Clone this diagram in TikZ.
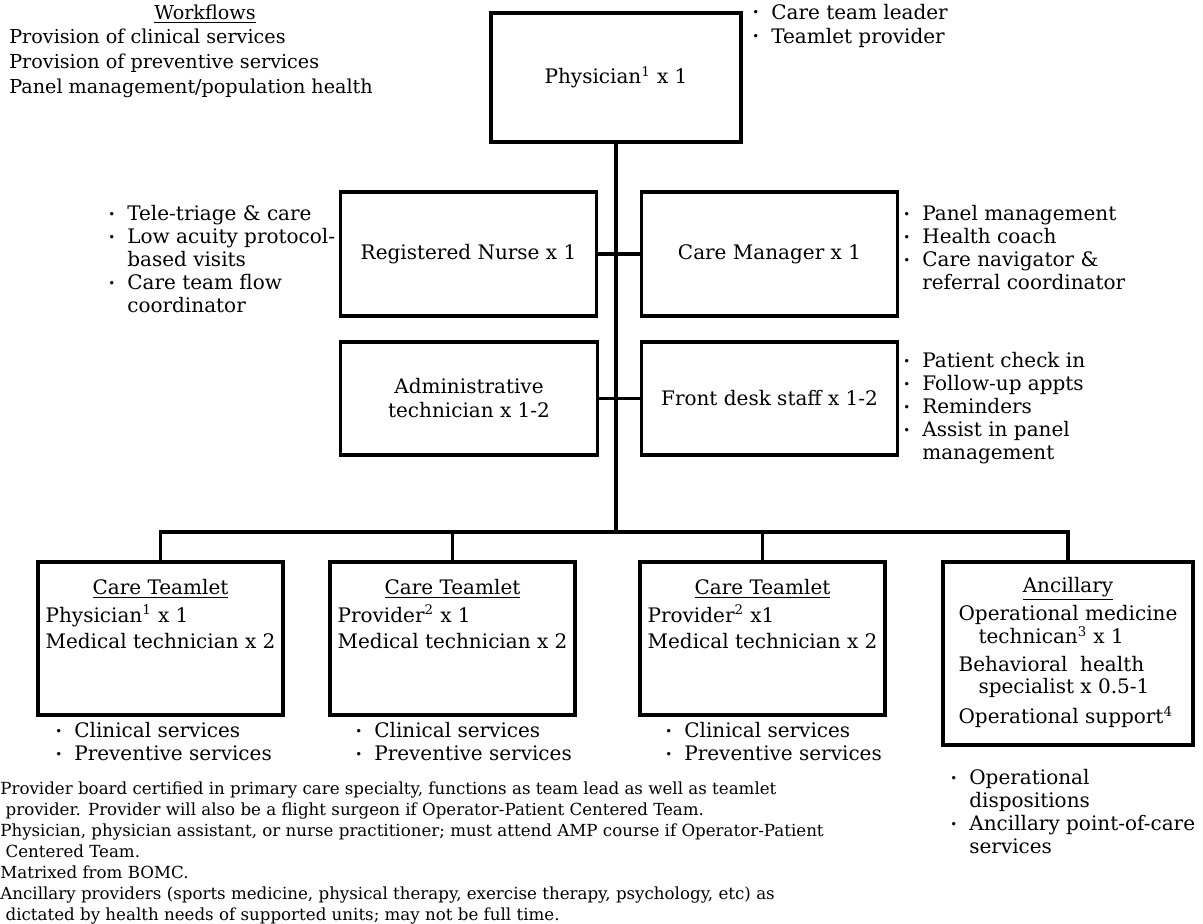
\documentclass[tikz,border=0pt]{standalone}
\usepackage{fontspec}
\setmainfont{DejaVu Serif}
\usetikzlibrary{positioning}
\newcommand{\bul}{\makebox[0.95em][l]{\raisebox{0.25ex}{\scriptsize\textbullet}}}
\newcommand{\cont}{\hspace*{0.95em}}

\begin{document}
\begin{tikzpicture}[x=0.6pt, y=-0.6pt,
    box/.style={draw, line width=1.9pt, minimum width=154pt, minimum height=74.4pt,
        align=center, inner sep=2pt, font=\fontsize{12}{14.4}\selectfont},
    team/.style={box, minimum width=147pt, minimum height=91.8pt, font=\fontsize{12}{13.8}\selectfont},
    notes/.style={align=left, inner sep=0pt, font=\fontsize{12}{13.8}\selectfont},
    link/.style={line width=1.9pt}]
	\useasboundingbox (0,0) rectangle (1203,924);

	% workflows and team lead
	\node[inner sep=0pt, font=\fontsize{11.5}{15}\selectfont] (wftitle) at (205,14) {\underline{Workflows}};
	\node[notes, font=\fontsize{11.5}{15}\selectfont, anchor=west] (wflist) at (9,63)
		{Provision of clinical services\\Provision of preventive services\\Panel management/population health};
	\node[box, minimum width=150pt, minimum height=77.4pt] (phys) at (616,77.5) {Physician\textsuperscript{1} x 1};
	\node[notes, font=\fontsize{12}{14.4}\selectfont, anchor=west] (physnotes) at (752,26)
		{\bul Care team leader\\\bul Teamlet provider};

	% nurse and care manager
	\node[box] (rn) at (468.5,254) {Registered Nurse x 1};
	\node[box] (cm) at (769.5,254) {Care Manager x 1};
	\node[notes, anchor=west] (rnnotes) at (108,259.5)
		{\bul Tele-triage \& care\\\bul Low acuity protocol-\\\cont based visits\\\bul Care team flow\\\cont coordinator};
	\node[notes, anchor=west] (cmnotes) at (903,248)
		{\bul Panel management\\\bul Health coach\\\bul Care navigator \&\\\cont referral coordinator};

	% admin and front desk
	\node[box, minimum height=67.8pt] (adm) at (469,398.5) {Administrative\\technician x 1-2};
	\node[box, minimum height=67.8pt] (fd) at (769.5,398.5) {Front desk staff x 1-2};
	\node[notes, anchor=west] (fdnotes) at (903,408.5)
		{\bul Patient check in\\\bul Follow-up appts\\\bul Reminders\\\bul Assist in panel\\\cont management};

	% teamlets
	\node[team] (t1) at (160.5,638.5) {\begin{tabular}{@{}l@{}}\multicolumn{1}{@{}c@{}}{\underline{Care Teamlet}}\\[2pt]
		Physician\textsuperscript{1} x 1\\[2pt]Medical technician x 2\\[12pt]\mbox{}\end{tabular}};
	\node[team] (t2) at (452.5,638.5) {\begin{tabular}{@{}l@{}}\multicolumn{1}{@{}c@{}}{\underline{Care Teamlet}}\\[2pt]
		Provider\textsuperscript{2} x 1\\[2pt]Medical technician x 2\\[12pt]\mbox{}\end{tabular}};
	\node[team] (t3) at (762.5,638.5) {\begin{tabular}{@{}l@{}}\multicolumn{1}{@{}c@{}}{\underline{Care Teamlet}}\\[2pt]
		Provider\textsuperscript{2} x1\\[2pt]Medical technician x 2\\[12pt]\mbox{}\end{tabular}};
	\node[box, minimum width=150pt, minimum height=109.8pt, font=\fontsize{12}{13.2}\selectfont] (anc) at (1068,653.5)
		{\begin{tabular}{@{}l@{}}\multicolumn{1}{@{}c@{}}{\underline{Ancillary}}\\[3.6pt]
		Operational medicine\\\hspace*{1em}technican\textsuperscript{3} x 1\\[3.6pt]
		Behavioral\ \ health\\\hspace*{1em}specialist x 0.5-1\\[3.6pt]
		Operational support\textsuperscript{4}\end{tabular}};

	\node[notes, anchor=west] (t1notes) at (55,742) {\bul Clinical services\\\bul Preventive services};
	\node[notes, anchor=west] (t2notes) at (355,742) {\bul Clinical services\\\bul Preventive services};
	\node[notes, anchor=west] (t3notes) at (665,742) {\bul Clinical services\\\bul Preventive services};
	\node[notes, anchor=west] (ancnotes) at (950,812)
		{\bul Operational\\\cont dispositions\\\bul Ancillary point-of-care\\\cont services};

	% footnotes
	\node[notes, font=\fontsize{10}{12.6}\selectfont, anchor=west] (fnotes) at (0,853)
		{Provider board certified in primary care specialty, functions as team lead as well as teamlet\\
		\ provider. Provider will also be a flight surgeon if Operator-Patient Centered Team.\\
		Physician, physician assistant, or nurse practitioner; must attend AMP course if Operator-Patient\\
		\ Centered Team.\\
		Matrixed from BOMC.\\
		Ancillary providers (sports medicine, physical therapy, exercise therapy, psychology, etc) as\\
		\ dictated by health needs of supported units; may not be full time.};

	% connectors
	\coordinate (bus) at (616,532);
	\draw[link] (phys.south) -- (bus);
	\draw[link] (rn.east) -- (cm.west);
	\draw[link] (adm.east) -- (fd.west);
	\draw[link] (t1.north) |- (bus);
	\draw[link] (anc.north) |- (bus);
	\draw[link] (t2.north) -- (t2.north |- bus);
	\draw[link] (t3.north) -- (t3.north |- bus);
\end{tikzpicture}
\end{document}
